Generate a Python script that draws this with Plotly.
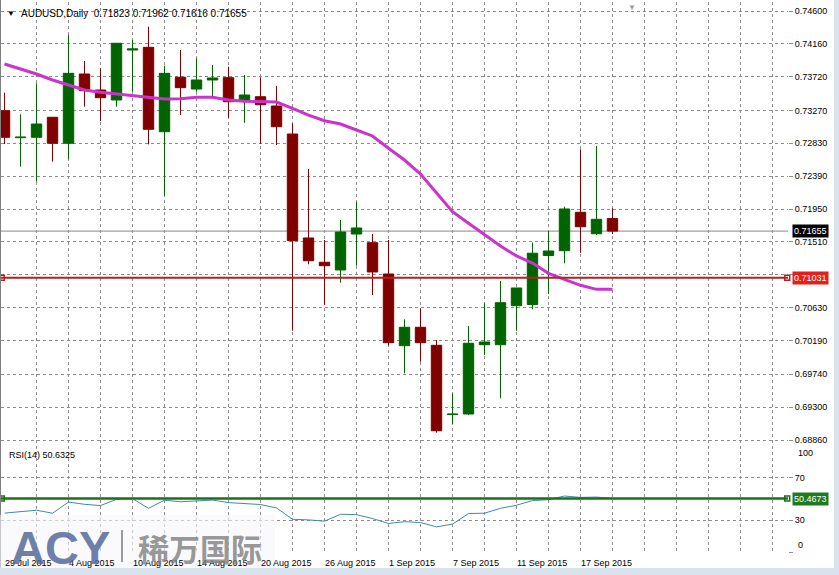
import plotly.graph_objects as go
import pandas as pd

symbol = "AUDUSD"
timeframe = "Daily"
dates = ["2015-07-29", "2015-07-30", "2015-07-31", "2015-08-03", "2015-08-04", "2015-08-05",
         "2015-08-06", "2015-08-07", "2015-08-10", "2015-08-11", "2015-08-12", "2015-08-13",
         "2015-08-14", "2015-08-17", "2015-08-18", "2015-08-19", "2015-08-20", "2015-08-21",
         "2015-08-24", "2015-08-25", "2015-08-26", "2015-08-27", "2015-08-28", "2015-08-31",
         "2015-09-01", "2015-09-02", "2015-09-03", "2015-09-04", "2015-09-07", "2015-09-08",
         "2015-09-09", "2015-09-10", "2015-09-11", "2015-09-14", "2015-09-15", "2015-09-16",
         "2015-09-17", "2015-09-18", "2015-09-21"]
open_ = [0.73266, 0.72905, 0.72910, 0.73178, 0.72830, 0.73757, 0.73543, 0.73409, 0.74078, 0.74114,
         0.72985, 0.73713, 0.73556, 0.73677, 0.73708, 0.73409, 0.73453, 0.73329, 0.72954, 0.71563,
         0.71238, 0.71135, 0.71616, 0.71500, 0.71081, 0.70122, 0.70368, 0.70127, 0.69200, 0.69208,
         0.70135, 0.70135, 0.70657, 0.70673, 0.71329, 0.71393, 0.71907, 0.71620, 0.71823]
high = [0.73507, 0.73218, 0.73633, 0.73180, 0.74279, 0.73931, 0.73833, 0.74170, 0.74212, 0.74390,
        0.73868, 0.74078, 0.73967, 0.73877, 0.73855, 0.73744, 0.73713, 0.73597, 0.73097, 0.72486,
        0.71536, 0.71804, 0.72044, 0.71616, 0.71536, 0.70475, 0.70622, 0.70198, 0.69485, 0.70385,
        0.70689, 0.70987, 0.70895, 0.71503, 0.71656, 0.71982, 0.72750, 0.72794, 0.71962]
low = [0.72820, 0.72517, 0.72316, 0.72584, 0.72616, 0.73320, 0.73128, 0.73320, 0.73520, 0.72816,
       0.72129, 0.73208, 0.73520, 0.73432, 0.73172, 0.73105, 0.72820, 0.72807, 0.70322, 0.71211,
       0.70666, 0.70965, 0.71192, 0.70800, 0.70122, 0.69752, 0.69908, 0.68958, 0.69074, 0.69194,
       0.69997, 0.69418, 0.70322, 0.70609, 0.70813, 0.71224, 0.71366, 0.71603, 0.71616]
close = [0.72910, 0.72912, 0.73088, 0.72830, 0.73766, 0.73534, 0.73440, 0.74168, 0.74092, 0.73017,
         0.73766, 0.73574, 0.73677, 0.73704, 0.73386, 0.73476, 0.73346, 0.73052, 0.71527, 0.71259,
         0.71192, 0.71643, 0.71697, 0.71108, 0.70162, 0.70368, 0.70162, 0.68984, 0.69206, 0.70154,
         0.70171, 0.70697, 0.70894, 0.71359, 0.71389, 0.71951, 0.71714, 0.71813, 0.71655]
moving_avg = [0.73891, 0.73824, 0.73757, 0.73677, 0.73610, 0.73543, 0.73512, 0.73489, 0.73476, 0.73445,
              0.73423, 0.73427, 0.73445, 0.73445, 0.73409, 0.73392, 0.73389, 0.73382, 0.73298, 0.73208,
              0.73132, 0.73088, 0.73008, 0.72928, 0.72763, 0.72606, 0.72419, 0.72161, 0.71915, 0.71759,
              0.71603, 0.71456, 0.71322, 0.71228, 0.71090, 0.71010, 0.70930, 0.70876, 0.70876]
rsi = [36.7, 38.4, 39.4, 36.6, 47.1, 45.0, 43.8, 49.7, 50.4, 41.2,
       48.9, 47.4, 48.5, 49.0, 46.6, 45.7, 44.8, 41.6, 30.9, 30.3,
       29.1, 35.6, 35.2, 31.6, 26.9, 28.6, 27.8, 23.7, 26.3, 36.3,
       36.6, 41.2, 44.1, 48.5, 49.4, 52.8, 51.5, 51.8, 50.63]
rsi_period = 14
rsi_current = 50.6325
rsi_level = 50.4673
price_level = 0.71031
price_ticks = [0.74600, 0.74160, 0.73720, 0.73270, 0.72830, 0.72390, 0.71950, 0.71510,
               0.71070, 0.70630, 0.70190, 0.69740, 0.69300, 0.68860]
rsi_ticks = [0, 30, 70]
rsi_edge_labels = [100, 0]
label_every = 4

# ---------------- styling ----------------
W, H = 839, 575
ML, MR, MT, MB = 1, 51, 2, 23
PW = W - ML - MR
PH = H - MT - MB
GREEN = "#006400"
RED = "#800000"
GRID = "#8c8c8c"
FONT = "Liberation Sans"

def px_x(px):
    return (px - ML) / PW

def px_y(py):
    return (H - MB - py) / PH

xs = list(range(len(dates)))
x_range = [-0.22, 48.97]
main_range = [0.688065, 0.747204]
dt = pd.to_datetime(dates)
date_labels = [f"{d.day} {d.strftime('%b %Y')}" for d in dt]

fig = go.Figure()
fig.add_trace(go.Candlestick(
    x=xs, open=open_, high=high, low=low, close=close,
    increasing=dict(line=dict(color=GREEN, width=1), fillcolor=GREEN),
    decreasing=dict(line=dict(color=RED, width=1), fillcolor=RED),
    whiskerwidth=0, hoverinfo="skip", xaxis="x", yaxis="y", showlegend=False))
fig.add_trace(go.Scatter(x=xs, y=moving_avg, mode="lines",
                         line=dict(color="#CC33CC", width=3), hoverinfo="skip",
                         xaxis="x", yaxis="y", showlegend=False))
fig.add_trace(go.Scatter(x=xs, y=rsi, mode="lines",
                         line=dict(color="#3A8CA8", width=1), hoverinfo="skip",
                         xaxis="x2", yaxis="y2", showlegend=False))

# level markers (small squares at both ends of horizontal lines)
ends = [x_range[0] + 0.05, x_range[1] - 0.05]
fig.add_trace(go.Scatter(x=ends, y=[price_level] * 2, mode="markers", cliponaxis=False,
                         marker=dict(symbol="square", size=5, color="white",
                                     line=dict(color="#B22222", width=1.5)),
                         hoverinfo="skip", xaxis="x", yaxis="y", showlegend=False))
fig.add_trace(go.Scatter(x=ends, y=[rsi_level] * 2, mode="markers", cliponaxis=False,
                         marker=dict(symbol="square", size=5, color="white",
                                     line=dict(color="#1E6E1E", width=1.5)),
                         hoverinfo="skip", xaxis="x2", yaxis="y2", showlegend=False))

shapes = [
    dict(type="line", xref="x domain", yref="y", x0=0, x1=1, y0=close[-1], y1=close[-1],
         line=dict(color="#8a8a8a", width=1), layer="below"),
    dict(type="line", xref="x domain", yref="y", x0=0, x1=1, y0=price_level, y1=price_level,
         line=dict(color="#B22222", width=2)),
    dict(type="line", xref="x2 domain", yref="y2", x0=0, x1=1, y0=rsi_level, y1=rsi_level,
         line=dict(color="#1E6E1E", width=2.5)),
    # chart window frame
    dict(type="line", xref="paper", yref="paper", x0=px_x(0.5), x1=px_x(0.5), y0=px_y(0), y1=px_y(568),
         line=dict(color="#808080", width=1)),
    dict(type="rect", xref="paper", yref="paper", x0=px_x(0), x1=px_x(839), y0=px_y(575), y1=px_y(568),
         fillcolor="#D9E3EE", line=dict(width=0), layer="below"),
    dict(type="rect", xref="paper", yref="paper", x0=px_x(834), x1=px_x(839), y0=px_y(575), y1=px_y(0),
         fillcolor="#D9E3EE", line=dict(width=0), layer="below"),
    # watermark background
    dict(type="rect", xref="paper", yref="paper", x0=px_x(0), x1=px_x(275), y0=px_y(568), y1=px_y(515),
         fillcolor="rgba(246,247,250,0.6)", line=dict(width=0), layer="above"),
    dict(type="line", xref="paper", yref="paper", x0=px_x(122), x1=px_x(122), y0=px_y(562), y1=px_y(530),
         line=dict(color="rgba(130,130,130,0.8)", width=2)),
]

ann = []
# header
ann.append(dict(xref="paper", yref="paper", x=px_x(5), y=px_y(13), text="▼", showarrow=False,
                xanchor="left", yanchor="middle", font=dict(family=FONT, size=8, color="black")))
header = f"{symbol},{timeframe}  {open_[-1]:.5f} {high[-1]:.5f} {low[-1]:.5f} {close[-1]:.5f}"
ann.append(dict(xref="paper", yref="paper", x=px_x(19), y=px_y(13), text=header, showarrow=False,
                xanchor="left", yanchor="middle", font=dict(family=FONT, size=10, color="black")))
ann.append(dict(xref="paper", yref="paper", x=px_x(626), y=px_y(8), text="▼", showarrow=False,
                xanchor="left", yanchor="middle", font=dict(family=FONT, size=8, color="#9a9a9a")))
# RSI label
ann.append(dict(xref="paper", yref="paper", x=px_x(7), y=px_y(455), text=f"RSI({rsi_period}) {rsi_current}",
                showarrow=False, xanchor="left", yanchor="middle",
                font=dict(family=FONT, size=9, color="black")))
# right side value labels
ann.append(dict(xref="paper", yref="y", x=px_x(792), y=close[-1], text=f"{close[-1]:.5f}",
                showarrow=False, xanchor="left", yanchor="middle", bgcolor="black", borderpad=1,
                font=dict(family=FONT, size=9, color="white")))
ann.append(dict(xref="paper", yref="y", x=px_x(792), y=price_level, text=f"{price_level:.5f}",
                showarrow=False, xanchor="left", yanchor="middle", bgcolor="#E3201B", borderpad=1,
                font=dict(family=FONT, size=9, color="white")))
ann.append(dict(xref="paper", yref="y2", x=px_x(792), y=rsi_level, text=f"{rsi_level:.4f}",
                showarrow=False, xanchor="left", yanchor="middle", bgcolor="#1E7A1E", borderpad=1,
                font=dict(family=FONT, size=9, color="white")))
ann.append(dict(xref="paper", yref="y2", x=px_x(796), y=rsi_edge_labels[0], text=str(rsi_edge_labels[0]),
                showarrow=False, xanchor="left", yanchor="top",
                font=dict(family=FONT, size=9, color="black")))
ann.append(dict(xref="paper", yref="y2", x=px_x(796), y=rsi_edge_labels[1], text=str(rsi_edge_labels[1]),
                showarrow=False, xanchor="left", yanchor="bottom",
                font=dict(family=FONT, size=9, color="black")))
# date labels (left aligned at bar, MT4 style)
for i in range(0, len(dates), label_every):
    ann.append(dict(xref="x2", yref="paper", x=i - 0.1, y=px_y(563), text=date_labels[i],
                    showarrow=False, xanchor="left", yanchor="middle",
                    font=dict(family=FONT, size=9, color="black")))
# watermark
ann.append(dict(xref="paper", yref="paper", x=px_x(60), y=px_y(547), text="<b>ACY</b>",
                showarrow=False, xanchor="center", yanchor="middle",
                font=dict(family=FONT, size=47, color="rgba(85,105,155,0.85)")))
ann.append(dict(xref="paper", yref="paper", x=px_x(200), y=px_y(547), text="<b>稀万国际</b>",
                showarrow=False, xanchor="center", yanchor="middle",
                font=dict(family="Noto Sans CJK SC", size=31, color="rgba(125,125,125,0.8)")))

grid_vals = list(range(2, 50, 2))
axis_common = dict(range=x_range, showgrid=True, gridcolor=GRID, griddash="3px,3px", gridwidth=1,
                   tickvals=grid_vals, showticklabels=False, ticks="", zeroline=False,
                   showline=False, fixedrange=True)

fig.update_layout(
    width=W, height=H, margin=dict(l=ML, r=MR, t=MT, b=MB),
    paper_bgcolor="white", plot_bgcolor="white", showlegend=False,
    boxgap=0.35, boxgroupgap=0,
    xaxis=dict(**axis_common, domain=[0, 1], anchor="y", rangeslider=dict(visible=False)),
    xaxis2=dict(**axis_common, domain=[0, 1], anchor="y2", matches="x"),
    yaxis=dict(domain=[px_y(444), 1], range=main_range, side="right", tickvals=price_ticks,
               ticktext=[f"{v:.5f}" for v in price_ticks], showgrid=True, gridcolor=GRID,
               griddash="3px,3px", ticks="outside", ticklen=4, tickcolor=GRID, zeroline=False,
               tickfont=dict(family=FONT, size=9, color="black")),
    yaxis2=dict(domain=[0, px_y(446)], range=[0, 100], side="right", tickvals=rsi_ticks,
                ticktext=["" if v == 0 else str(v) for v in rsi_ticks], showgrid=True, gridcolor=GRID,
                griddash="3px,3px", ticks="outside", ticklen=4, tickcolor=GRID, zeroline=False,
                tickfont=dict(family=FONT, size=9, color="black")),
    shapes=shapes, annotations=ann,
)

fig.write_html("out.html", config={"displayModeBar": False},
               post_script="document.body.style.margin='0';document.body.style.padding='0';")
